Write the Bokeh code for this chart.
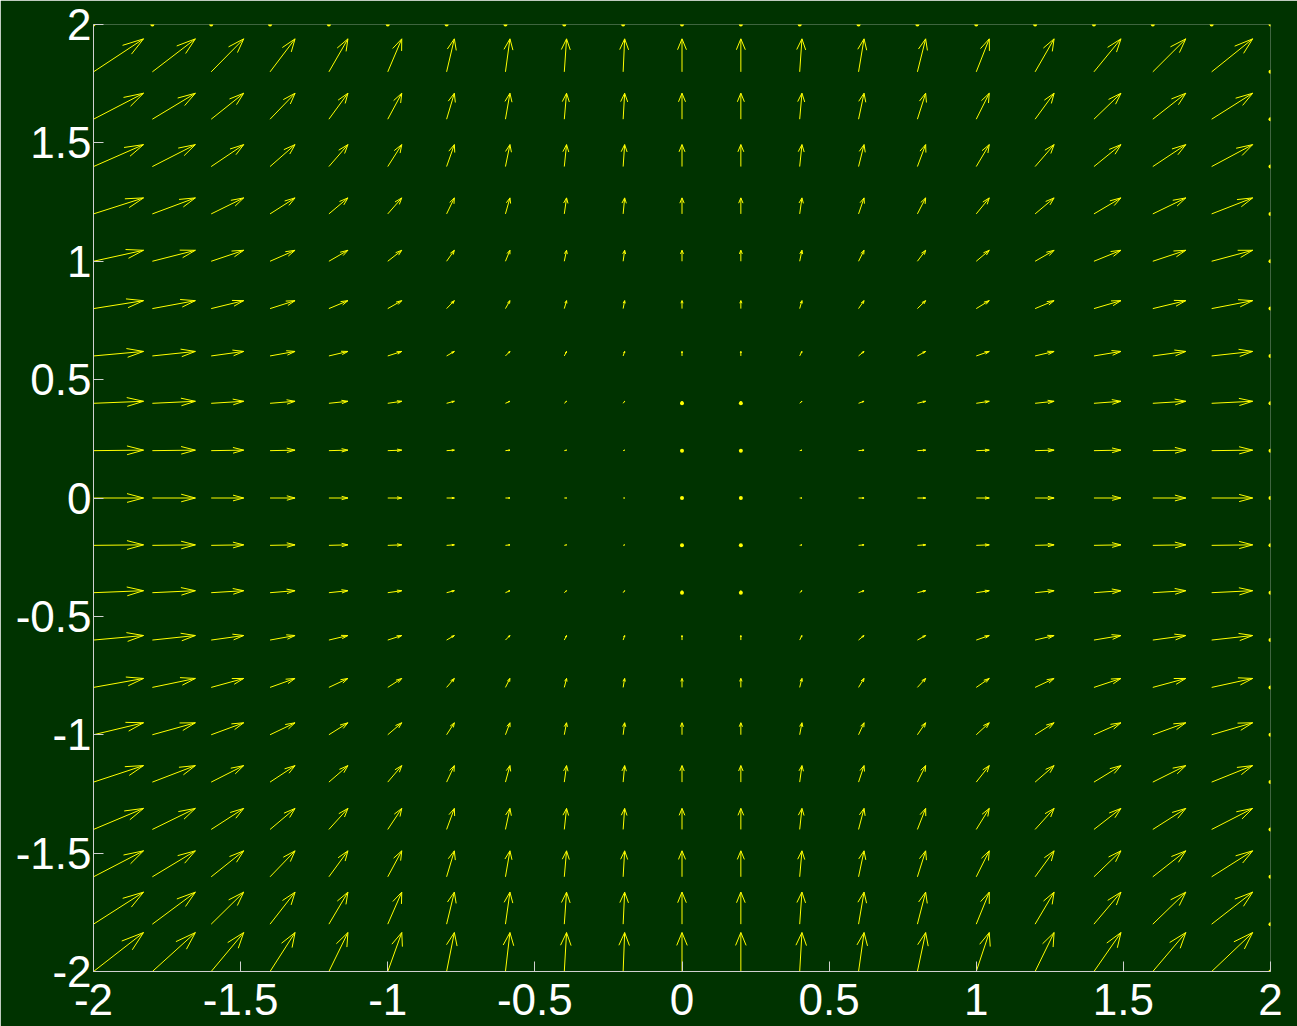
import numpy as np
from bokeh.plotting import figure
from bokeh.models import Range1d, FixedTicker
from bokeh.embed import file_html
from bokeh.resources import INLINE

# grid positions of the arrows
xs = [-2.0, -1.8, -1.6, -1.4, -1.2, -1.0, -0.8, -0.6, -0.4, -0.2, 0.0,
      0.2, 0.4, 0.6, 0.8, 1.0, 1.2, 1.4, 1.6, 1.8, 2.0]
ys = [-2.0, -1.8, -1.6, -1.4, -1.2, -1.0, -0.8, -0.6, -0.4, -0.2, 0.0,
      0.2, 0.4, 0.6, 0.8, 1.0, 1.2, 1.4, 1.6, 1.8, 2.0]

# horizontal component per column (x) and vertical component per row (y)
u_col = [4.0, 3.44, 2.6, 2.0, 1.52, 1.12, 0.62, 0.36, 0.18, 0.12, 0.0,
         0.0, 0.18, 0.44, 0.66, 1.04, 1.52, 2.16, 2.64, 3.28, 0.0]
v_row = [3.87, 3.18, 2.58, 2.09, 1.64, 1.19, 0.89, 0.45, 0.2, 0.05, 0.0,
         0.05, 0.2, 0.45, 0.79, 1.09, 1.59, 2.18, 2.58, 3.28, 0.0]
# last row (y=2) and last column (x=2) carry zero vectors
row_active = [1] * 20 + [0]
col_active = [1] * 20 + [0]

tick_vals = [-2, -1.5, -1, -0.5, 0, 0.5, 1, 1.5, 2]
tick_labels = ["-2", "-1.5", "-1", "-0.5", "0", "0.5", "1", "1.5", "2"]

BG = "#003300"
ARROW = "#ffff00"
AXC = "#d0d0d0"
FONT = "Liberation Sans"
FSIZE = "44px"

X, Y = np.meshgrid(np.array(xs), np.array(ys))
ra = np.array(row_active, float)
ca = np.array(col_active, float)
U = np.outer(ra, np.array(u_col) * ca)
V = np.outer(np.array(v_row) * ra, ca)
scale = 0.0425
U = U * scale
V = V * scale

x0 = X.ravel(); y0 = Y.ravel(); u = U.ravel(); v = V.ravel()
x1 = x0 + u; y1 = y0 + v
alpha = 0.33; beta = 0.33
hx1 = x1 - alpha * (u + beta * v); hy1 = y1 - alpha * (v - beta * u)
hx2 = x1 - alpha * (u - beta * v); hy2 = y1 - alpha * (v + beta * u)

sx0 = np.concatenate([x0, hx1, hx2]); sy0 = np.concatenate([y0, hy1, hy2])
sx1 = np.concatenate([x1, x1, x1]); sy1 = np.concatenate([y1, y1, y1])

FW, FH = 1177, 947
BL, BR, BT, BB = 93, 27, 24, 55
pxx = FW / 4.0
pxy = FH / 4.0
plen = np.sqrt((u * pxx) ** 2 + (v * pxy) ** 2)
small = (np.abs(u) < 1e-12) & (plen < 2.1)

p = figure(frame_width=FW, frame_height=FH, output_backend="svg",
           toolbar_location=None,
           x_range=Range1d(-2, 2), y_range=Range1d(-2, 2),
           min_border_left=BL, min_border_right=BR, min_border_top=BT,
           min_border_bottom=BB)
p.background_fill_color = BG
p.border_fill_color = BG
p.outline_line_color = None
p.grid.visible = False

p.segment(x0=sx0, y0=sy0, x1=sx1, y1=sy1, line_color=ARROW, line_width=1)
p.scatter(x=x0[small], y=y0[small], size=4, marker="circle",
          fill_color=ARROW, line_color=None)

overrides = {v_: t for v_, t in zip(tick_vals, tick_labels)}
for ax in (p.xaxis[0], p.yaxis[0]):
    ax.ticker = FixedTicker(ticks=tick_vals)
    ax.major_label_overrides = overrides
    ax.axis_line_color = AXC
    ax.major_tick_line_color = AXC
    ax.minor_tick_line_color = None
    ax.major_tick_in = 10
    ax.major_tick_out = 0
    ax.major_label_text_color = "#ffffff"
    ax.major_label_text_font = FONT
    ax.major_label_text_font_size = FSIZE
p.yaxis[0].major_label_standoff = 2
p.xaxis[0].major_label_standoff = 12

html = file_html(p, INLINE)
html = html.replace("<body>",
                    '<body style="background-color:#003300;overflow:hidden;">', 1)
open("out.html", "w").write(html)
